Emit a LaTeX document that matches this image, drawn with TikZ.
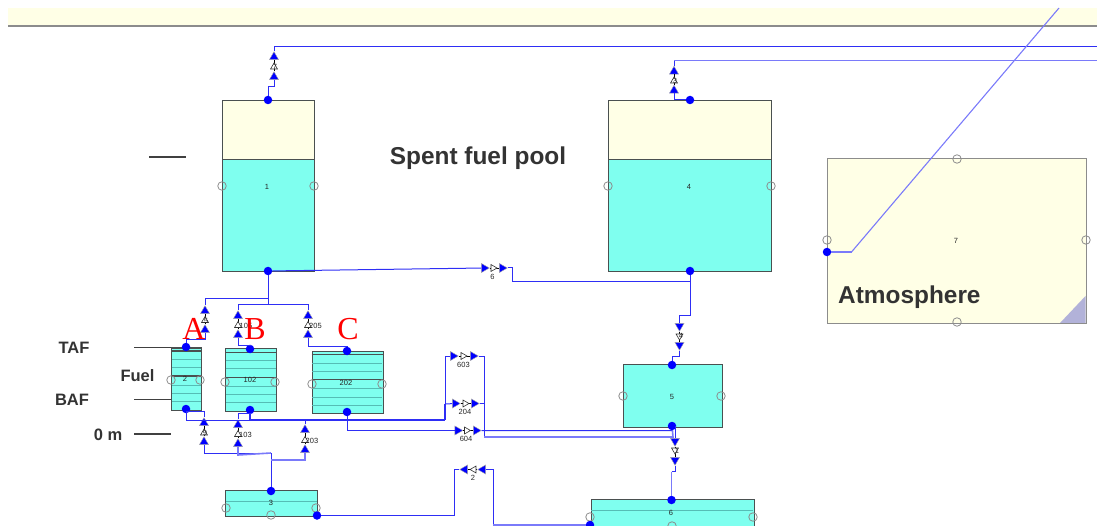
\documentclass[tikz,border=0pt]{standalone}
\usepackage{fontspec}
\setmainfont{Liberation Sans}
\newfontfamily\serifletter{Liberation Serif}
\usepackage{tikz}
\usetikzlibrary{shapes.geometric}

\definecolor{poolwater}{HTML}{7FFFEF}
\definecolor{poolair}{HTML}{FFFFE6}
\definecolor{flowblue}{HTML}{2E2EF5}
\definecolor{flowsoft}{HTML}{7A7AFA}
\definecolor{rimgray}{HTML}{4A5050}
\definecolor{bedgray}{HTML}{55BDB5}

\tikzset{
  cvbox/.style={draw=rimgray,line width=1.1pt,inner sep=0pt,anchor=north west},
  waterlevel/.style={draw=rimgray,line width=1.1pt},
  bedlayer/.style={draw=bedgray,line width=0.9pt},
  port/.style={circle,draw=black!45,fill=none,line width=0.8pt,minimum size=8.5pt,inner sep=0pt},
  dot/.style={circle,fill=blue,minimum size=8.5pt,inner sep=0pt},
  valvetip/.style={regular polygon,regular polygon sides=3,fill=blue,draw=black!35,line width=0.4pt,minimum size=10.5pt,inner sep=0pt},
  valvemid/.style={regular polygon,regular polygon sides=3,fill=white,draw=black!80,line width=0.6pt,minimum size=8pt,inner sep=0pt},
  idtext/.style={font=\fontsize{7.5}{8}\selectfont,text=black!85,inner sep=0pt},
  flowline/.style={draw=flowblue,line width=1pt},
  flowpale/.style={draw=flowsoft,line width=1.6pt},
  flowheavy/.style={draw=flowblue,line width=1.6pt},
  stemline/.style={draw=black,line width=0.9pt},
  sidetag/.style={font=\bfseries\fontsize{16.5}{18}\selectfont,text=black!80,inner sep=0pt},
  bigtag/.style={font=\bfseries\fontsize{24.4}{26}\selectfont,text=black!80,inner sep=0pt},
  redletter/.style={font=\serifletter\fontsize{32}{34}\selectfont,text=red,inner sep=0pt},
  markline/.style={draw=black!75,line width=1.2pt}
}

\begin{document}
\begin{tikzpicture}[x=1pt,y=-1pt]
      \useasboundingbox (0,0) rectangle (1097,526);

      % top strip
      \node[fill=poolair,inner sep=0pt,minimum width=1089pt,minimum height=18pt,anchor=north west] (strip) at (8,8) {};
      \draw[draw=black!45,line width=1.8pt] (strip.south west) -- (strip.south east);

      % volumes
      \node[cvbox,fill=poolair,minimum width=92pt,minimum height=171pt]  (cv1) at (221.5,100) {};
      \node[cvbox,fill=poolwater,minimum width=92pt,minimum height=112pt] (w1) at (221.5,159) {};
      \node[cvbox,fill=poolair,minimum width=163pt,minimum height=171pt] (cv4) at (607.5,100) {};
      \node[cvbox,fill=poolwater,minimum width=163pt,minimum height=112pt] (w4) at (607.5,159) {};
      \node[cvbox,draw=black!45,line width=1.3pt,fill=poolair,minimum width=259pt,minimum height=165pt] (cv7) at (826.5,158) {};
      \fill[fill=blue!50!black!30!white] (1085.5,296) -- (1085.5,323) -- (1060,323) -- cycle;

      \node[cvbox,fill=poolwater,minimum width=30pt,minimum height=62pt]  (cv2) at (171,347.5) {};
      \node[cvbox,fill=poolwater,minimum width=51pt,minimum height=63pt]  (cv102) at (225,348) {};
      \node[cvbox,fill=poolwater,minimum width=71pt,minimum height=62.5pt] (cv202) at (311.5,350.5) {};
      \node[cvbox,fill=poolwater,minimum width=92pt,minimum height=26pt]  (cv3) at (225,490) {};
      \node[cvbox,fill=poolwater,minimum width=99pt,minimum height=63pt]  (cv5) at (623,364) {};
      \node[cvbox,fill=poolwater,minimum width=163pt,minimum height=40pt] (cv6) at (590.5,499) {};

      % layers in the rubble beds
      \foreach \y in {359,367,385,393,401} \draw[bedlayer] (171.5,\y) -- (200.5,\y);
      \foreach \y in {360,368,386,394,402} \draw[bedlayer] (225.5,\y) -- (275.5,\y);
      \foreach \y in {363,371,388,397,405} \draw[bedlayer] (312,\y) -- (382,\y);
      \draw[bedlayer] (225.5,501) -- (316.5,501);
      \draw[bedlayer] (591,510) -- (753,510);
      \draw[waterlevel] (171,351) -- (201,351);
      \draw[waterlevel] (171,376) -- (201,376);
      \draw[waterlevel] (225,352.5) -- (276,352.5);
      \draw[waterlevel] (225,377.5) -- (276,377.5);
      \draw[waterlevel] (311.5,354.5) -- (382.5,354.5);
      \draw[waterlevel] (311.5,379.5) -- (382.5,379.5);

      % open ports
      \foreach \x/\y in {222/186,314/186,608/186,771/186,957/159,957/322,827/240,1086/240,
                         171/380,200/380,225/382,275/382,312/384,382/384,
                         226/508,316/508,271/515,623/396,721/396,590/517,753/517,672/526}
        \node[port] at (\x,\y) {};

      % connection points
      \node[dot] (d1t) at (268,100) {};
      \node[dot] (d1b) at (268,271) {};
      \node[dot] (d4t) at (690,100) {};
      \node[dot] (d4b) at (690,271) {};
      \node[dot] (d7)  at (827,252) {};
      \node[dot] (d2t) at (186,347) {};
      \node[dot] (d2b) at (186,409) {};
      \node[dot] (d102t) at (250,349) {};
      \node[dot] (d102b) at (250,410) {};
      \node[dot] (d202t) at (347,351) {};
      \node[dot] (d202b) at (347,412) {};
      \node[dot] (d3t) at (271,491) {};
      \node[dot] (d3b) at (317,515.5) {};
      \node[dot] (d5t) at (672,365) {};
      \node[dot] (d5b) at (672,426) {};
      \node[dot] (d6t) at (671.5,500) {};
      \node[dot] (d6b) at (590,525) {};

      % valves: tips a and b, open triangle between
      \foreach \n/\xa/\ya/\xm/\ym/\xb/\yb/\r in {
          7/274/77/274/67/274/57/0, 3/674/90.5/674/81/674/71.5/0,
          5/205/330/205/320.5/205/311/0, 9/204/442/204/433/204/423/0,
          105/238/335/238/325.5/238/316/0, 103/238/444/238/434.5/238/425/0,
          205/308/335/308/325.5/308/316/0, 203/305/450/305/440.5/305/430/0,
          4/679.5/326/679.5/336/679.5/345/180, 1/675/441/675/450/675/460/180,
          6/484/268/493/268/502/268/-90, 603/453/356/463/356/473/356/-90,
          204/455/403.5/465/403.5/474/403.5/-90, 604/457.5/430.5/466.5/430.5/476/430.5/-90,
          2/483/469.5/474/469.5/465/469.5/90}
      {
        \node[valvetip,shape border rotate=\r] (v\n a) at (\xa,\ya) {};
        \node[valvetip,shape border rotate=\r] (v\n b) at (\xb,\yb) {};
        \draw[stemline] (v\n a) -- (v\n b);
        \node[valvemid,shape border rotate=\r] (v\n m) at (\xm,\ym) {};
      }

      % valve numbers
      \node[idtext] (n7) at (275,67) {7};
      \node[idtext] (n3) at (675,81) {3};
      \node[idtext] (n5) at (206,320.5) {5};
      \node[idtext] (n9) at (205,433) {9};
      \node[idtext] (n4) at (681,336) {4};
      \node[idtext] (n1) at (677,451) {1};
      \node[idtext] (n105) at (246,326) {105};
      \node[idtext] (n103) at (245.5,435) {103};
      \node[idtext] (n205) at (315.5,326) {205};
      \node[idtext] (n203) at (312,441) {203};
      \node[idtext] (n6) at (492.5,276.5) {6};
      \node[idtext] (n603) at (463.5,364.5) {603};
      \node[idtext] (n204) at (465,411.5) {204};
      \node[idtext] (n604) at (466,438.5) {604};
      \node[idtext] (n2) at (473,478) {2};

      % volume numbers
      \node[idtext] (l1) at (267,187) {1};
      \node[idtext] (l4) at (689,187) {4};
      \node[idtext] (l7) at (956,241) {7};
      \node[idtext] (l2) at (185,379) {2};
      \node[idtext] (l102) at (250,380) {102};
      \node[idtext] (l202) at (346,383) {202};
      \node[idtext] (l3) at (271,503) {3};
      \node[idtext] (l5) at (672,396.5) {5};
      \node[idtext] (l6) at (671,513) {6};

      % free ends and bends
      \coordinate (e1) at (1097,46.5);
      \coordinate (e2) at (1097,60.5);
      \coordinate (k7) at (851.5,252);
      \coordinate (e7) at (1059,8);
      \coordinate (j1) at (268,299);
      \coordinate (j2) at (268,305);
      \coordinate (j3) at (271,453);
      \coordinate (j4) at (271,460);
      \coordinate (h1) at (445,420);
      \coordinate (h2) at (484,437);

      % upper vents
      \draw[flowline] (d1t) -- (268,87) -- (274,87) -- (v7a);
      \draw[flowline] (v7b) -- (274,46.5) -- (e1);
      \draw[flowline] (d4t) -- (674,100) -- (v3a);
      \draw[flowline] (v3b) -- (674,60.5);
      \draw[flowpale] (674,60.5) -- (e2);
      \draw[flowpale] (d7) -- (k7);
      \draw[draw=flowsoft,line width=1.1pt] (k7) -- (e7);

      % pool outlet across to the second pool
      \draw[flowline] (d1b) -- (j2);
      \draw[flowline] (d1b) -- (v6a);
      \draw[flowline] (v6b) -- (512,268) -- (512,282) -- (690,282) -- (d4b);
      \draw[flowline] (690,282) -- (690,315.5) -- (679.5,315.5) -- (v4a);
      \draw[flowline] (v4b) -- (679.5,356.5) -- (672,356.5) -- (d5t);

      % branches to the racks
      \draw[flowline] (j1) -- (205,299) -- (v5b);
      \draw[flowline] (v5a) -- (205,340) -- (186,340) -- (d2t);
      \draw[flowline] (j2) -- (238,305) -- (v105b);
      \draw[flowline] (v105a) -- (238,345.5) -- (250,345.5) -- (d102t);
      \draw[flowline] (j2) -- (308,305) -- (v205b);
      \draw[flowline] (v205a) -- (308,346.5) -- (347,346.5) -- (d202t);

      % below the racks
      \draw[flowline] (d2b) -- (186,420) -- (250,420);
      \draw[flowheavy] (d102b) -- (250,420) -- (h1);
      \draw[flowline] (d2b) -- (186,411.5) -- (204,411.5) -- (v9b);
      \draw[flowline] (v9a) -- (204,453) -- (j3);
      \draw[flowline] (d102b) -- (250,413.5) -- (238,413.5) -- (v103b);
      \draw[flowpale] (v103a) -- (238,455) -- (j3);
      \draw[flowline] (d3t) -- (j3);
      \draw[flowpale] (j4) -- (305,460) -- (v203a);
      \draw[flowline] (v203b) -- (305,420);
      \draw[flowline] (d202b) -- (347,430.5) -- (v604a);
      \draw[flowline] (v604b) -- (672.5,430.5) -- (d5b);

      % the three parallel lines
      \draw[flowheavy] (h1) -- (445,404);
      \draw[flowline] (445,404) -- (v204a);
      \draw[flowline] (445,404) -- (445,356) -- (v603a);
      \draw[flowline] (v603b) -- (484,356) -- (h2);
      \draw[flowline] (v204b) -- (484,403.5);
      \draw[flowpale] (h2) -- (673,437) -- (d5b);

      % sump
      \draw[flowline] (d5b) -- (675,426) -- (v1a);
      \draw[flowline] (v1b) -- (675,471.5) -- (671.5,471.5);
      \draw[flowpale] (671.5,471.5) -- (d6t);
      \draw[flowline] (d3b) -- (454.5,515.5) -- (454.5,469.5) -- (v2b);
      \draw[flowline] (v2a) -- (493,469.5) -- (493,525);
      \draw[flowpale] (493,525) -- (d6b);

      % texts and marks
      \node[bigtag] (pool) at (478,158.5) {Spent fuel pool};
      \node[bigtag,anchor=west] (air) at (838,297) {Atmosphere};
      \node[sidetag] (taf) at (74,347.5) {TAF};
      \node[sidetag] (baf) at (72,400) {BAF};
      \node[sidetag] (fuel) at (137.5,375.5) {Fuel};
      \node[sidetag] (zero) at (108,434.5) {0 m};
      \node[redletter] (la) at (194,329) {A};
      \node[redletter] (lb) at (255,329) {B};
      \node[redletter] (lc) at (348,329) {C};

      \draw[markline] (149,157) -- (186,157);
      \draw[markline] (134,347.5) -- (cv2.north west);
      \draw[markline] (134,399.5) -- (cv2.west |- 0,399.5);
      \draw[markline] (134,434) -- (171,434);
\end{tikzpicture}
\end{document}
